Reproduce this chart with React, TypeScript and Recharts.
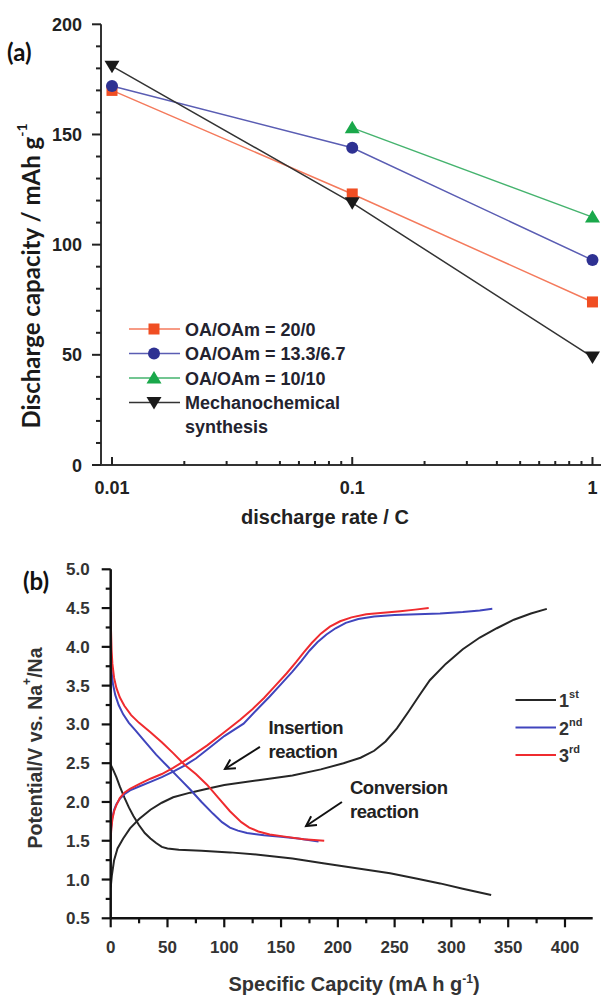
import React from 'react';
import { LineChart, Line, XAxis, YAxis, Legend, ReferenceLine, ReferenceDot } from 'recharts';

// ---------------- Panel (a) data ----------------
const rates = [0.01, 0.1, 1];
const capOA20 = [170, 123, 74];
const capOA133 = [172, 144, 93];
const capOA10 = [null, 153, 112.5];
const capMech = [181, 119, 49];

const rateTicks = [0.01, 0.02, 0.03, 0.04, 0.05, 0.06, 0.07, 0.08, 0.09, 0.1, 0.2, 0.3, 0.4, 0.5, 0.6, 0.7, 0.8, 0.9, 1];
const rateMajorTicks = [0.01, 0.1, 1];
const rateMajorLabels = ['0.01', '0.1', '1'];
const capTicksA = [0, 10, 20, 30, 40, 50, 60, 70, 80, 90, 100, 110, 120, 130, 140, 150, 160, 170, 180, 190, 200];
const capMajorA = [0, 50, 100, 150, 200];
const capMajorLabelsA = ['0', '50', '100', '150', '200'];

const seriesA = [
  { key: 'oa20', lines: ['OA/OAm = 20/0'], line: '#f47a5c', fill: '#f04e23', shape: 'square' },
  { key: 'oa133', lines: ['OA/OAm = 13.3/6.7'], line: '#5a5db3', fill: '#2e3192', shape: 'circle' },
  { key: 'oa10', lines: ['OA/OAm = 10/10'], line: '#45b36e', fill: '#1aa84b', shape: 'triangle' },
  { key: 'mech', lines: ['Mechanochemical', 'synthesis'], line: '#333333', fill: '#1a1a1a', shape: 'down' },
];

const dataA = rates.map((r, i) => ({
  rate: r,
  oa20: capOA20[i],
  oa133: capOA133[i],
  oa10: capOA10[i],
  mech: capMech[i],
}));

// ---------------- Panel (b) data ----------------
const c1DisCap = [0, 2, 5, 8, 12, 16, 20, 25, 30, 35, 40, 45, 50, 60, 80, 105, 130, 160, 187, 215, 246, 270, 290, 310, 335];
const c1DisV = [2.48, 2.42, 2.32, 2.2, 2.06, 1.93, 1.82, 1.7, 1.6, 1.53, 1.47, 1.42, 1.4, 1.385, 1.37, 1.35, 1.32, 1.27, 1.21, 1.15, 1.08, 1.01, 0.95, 0.88, 0.8];
const c1ChgCap = [0, 1, 3, 6, 11, 17, 25, 35, 45, 55, 70, 85, 100, 130, 160, 185, 205, 220, 232, 242, 252, 262, 272, 281, 295, 310, 325, 340, 355, 370, 384];
const c1ChgV = [0.9, 1.05, 1.25, 1.4, 1.53, 1.66, 1.78, 1.9, 1.99, 2.06, 2.12, 2.17, 2.22, 2.28, 2.34, 2.42, 2.5, 2.57, 2.66, 2.78, 2.95, 3.16, 3.38, 3.57, 3.78, 3.97, 4.12, 4.24, 4.35, 4.43, 4.49];

const c2DisCap = [0, 0.3, 1, 2, 4, 7, 11, 16, 22, 30, 40, 50, 60, 70, 80, 90, 98, 105, 112, 120, 135, 150, 165, 183];
const c2DisV = [3.95, 3.8, 3.65, 3.52, 3.38, 3.25, 3.13, 3.02, 2.92, 2.78, 2.61, 2.46, 2.31, 2.16, 2.0, 1.85, 1.74, 1.67, 1.63, 1.6, 1.57, 1.55, 1.53, 1.49];
const c2ChgCap = [0, 0.5, 1.5, 3, 5, 8, 12, 17, 25, 35, 45, 55, 65, 75, 87, 100, 117, 128, 140, 150, 160, 168, 175, 182, 190, 198, 207, 218, 232, 250, 270, 290, 310, 325, 336];
const c2ChgV = [1.55, 1.68, 1.8, 1.9, 1.97, 2.04, 2.1, 2.15, 2.2, 2.26, 2.32, 2.39, 2.47, 2.56, 2.7, 2.85, 3.01, 3.18, 3.36, 3.52, 3.68, 3.82, 3.95, 4.06, 4.16, 4.24, 4.31, 4.36, 4.39, 4.41, 4.42, 4.43, 4.45, 4.47, 4.49];

const c3DisCap = [0, 0.3, 0.8, 1.5, 3, 5, 8, 12, 18, 25, 35, 45, 55, 65, 75, 85, 95, 105, 115, 122, 130, 140, 155, 170, 188];
const c3DisV = [4.45, 4.2, 3.95, 3.78, 3.6, 3.47, 3.35, 3.24, 3.12, 3.02, 2.9, 2.77, 2.63, 2.48, 2.36, 2.22, 2.05, 1.88, 1.74, 1.67, 1.62, 1.58, 1.55, 1.52, 1.5];
const c3ChgCap = [0, 0.5, 1.5, 3, 5, 8, 12, 17, 25, 35, 45, 55, 65, 75, 85, 100, 114, 125, 135, 145, 155, 163, 170, 177, 185, 193, 202, 212, 225, 240, 255, 268, 280];
const c3ChgV = [1.52, 1.65, 1.78, 1.88, 1.96, 2.05, 2.12, 2.17, 2.23, 2.3, 2.36, 2.44, 2.53, 2.63, 2.73, 2.9, 3.06, 3.2, 3.34, 3.5, 3.66, 3.8, 3.93, 4.05, 4.17, 4.26, 4.33, 4.38, 4.42, 4.44, 4.46, 4.48, 4.5];

const capTicksB = [0, 25, 50, 75, 100, 125, 150, 175, 200, 225, 250, 275, 300, 325, 350, 375, 400];
const capMajorB = [0, 50, 100, 150, 200, 250, 300, 350, 400];
const capMajorLabelsB = ['0', '50', '100', '150', '200', '250', '300', '350', '400'];
const vTicksB = [0.5, 0.75, 1, 1.25, 1.5, 1.75, 2, 2.25, 2.5, 2.75, 3, 3.25, 3.5, 3.75, 4, 4.25, 4.5, 4.75, 5];
const vMajorB = [0.5, 1, 1.5, 2, 2.5, 3, 3.5, 4, 4.5, 5];
const vMajorLabelsB = ['0.5', '1.0', '1.5', '2.0', '2.5', '3.0', '3.5', '4.0', '4.5', '5.0'];

const cycleNames = ['1', '2', '3'];
const cycleSups = ['st', 'nd', 'rd'];
const cycleColors = ['#262626', '#4045bd', '#ef2b2f'];

const zip = (caps: number[], vs: number[]) => caps.map((c, i) => ({ cap: c, v: vs[i] }));
const curvesB = [
  { id: 'c1d', cycle: 0, data: zip(c1DisCap, c1DisV) },
  { id: 'c1c', cycle: 0, data: zip(c1ChgCap, c1ChgV) },
  { id: 'c2d', cycle: 1, data: zip(c2DisCap, c2DisV) },
  { id: 'c2c', cycle: 1, data: zip(c2ChgCap, c2ChgV) },
  { id: 'c3d', cycle: 2, data: zip(c3DisCap, c3DisV) },
  { id: 'c3c', cycle: 2, data: zip(c3ChgCap, c3ChgV) },
];

const annotations = [
  { id: 'ins', lines: ['Insertion', 'reaction'], textCap: 139, textV: 2.97, fromCap: 131.4, fromV: 2.71, toCap: 100.6, toV: 2.425 },
  { id: 'conv', lines: ['Conversion', 'reaction'], textCap: 210.6, textV: 2.19, fromCap: 203.6, fromV: 2.0, toCap: 172, toV: 1.69 },
];

// ---------------- styles ----------------
const SANS = "'Liberation Sans', Arial, sans-serif";
const CAL = "Lato, 'Open Sans', sans-serif";
const TOP_B = 535;

// ---------------- renderers (a) ----------------
const renderMarker = (p: any, s: any) => {
  const { cx, cy, index } = p;
  const k = `${s.key}-${index}`;
  if (cx == null || cy == null || p.value == null) return <g key={k} />;
  if (s.shape === 'square') return <rect key={k} x={cx - 5.5} y={cy - 5.5} width={11} height={11} fill={s.fill} />;
  if (s.shape === 'circle') return <circle key={k} cx={cx} cy={cy} r={6} fill={s.fill} />;
  if (s.shape === 'triangle')
    return <polygon key={k} points={`${cx},${cy - 7} ${cx + 7.5},${cy + 5.5} ${cx - 7.5},${cy + 5.5}`} fill={s.fill} />;
  return <polygon key={k} points={`${cx - 7.5},${cy - 5.5} ${cx + 7.5},${cy - 5.5} ${cx},${cy + 7}`} fill={s.fill} />;
};

const legendMarker = (s: any, cx: number, cy: number) => renderMarker({ cx, cy, index: 'lg', value: 1 }, s);

const rateTickBottom = (p: any) => {
  const { x, y, payload } = p;
  const i = rateMajorTicks.indexOf(payload.value);
  const major = i >= 0;
  return (
    <g key={`rb-${payload.value}`}>
      <path d={`M${x},${y} L${x},${y - (major ? 8 : 4)}`} stroke="#222" strokeWidth={2} fill="none" />
      {major && (
        <text x={x} y={y + 28.5} textAnchor="middle" fontFamily={SANS} fontWeight="bold" fontSize={18} fill="#222">
          {rateMajorLabels[i]}
        </text>
      )}
    </g>
  );
};

const rateTickTop = (p: any) => {
  const { x, y, payload } = p;
  const major = rateMajorTicks.indexOf(payload.value) >= 0;
  return (
    <g key={`rt-${payload.value}`}>
      <path d={`M${x},${y} L${x},${y + (major ? 8 : 4)}`} stroke="#222" strokeWidth={2} fill="none" />
    </g>
  );
};

const capTickA = (p: any) => {
  const { x, y, payload } = p;
  const i = capMajorA.indexOf(payload.value);
  const major = i >= 0;
  return (
    <g key={`ca-${payload.value}`}>
      <path d={`M${x},${y} L${x - (major ? 9 : 5)},${y}`} stroke="#222" strokeWidth={2} fill="none" />
      {major && (
        <text x={x - 19} y={y + 6.5} textAnchor="end" fontFamily={SANS} fontWeight="bold" fontSize={18} fill="#222">
          {capMajorLabelsA[i]}
        </text>
      )}
    </g>
  );
};

const rateTitle = () => (
  <text x={325} y={524} textAnchor="middle" fontFamily={SANS} fontWeight="bold" fontSize={20} fill="#222">
    discharge rate / C
  </text>
);

const capTitleA = () => (
  <g>
    <text x={7} y={61} fontFamily={CAL} fontWeight="bold" fontSize={24} fill="#111">
      (a)
    </text>
    <text
      x={30}
      y={276}
      transform="rotate(-90, 30, 276)"
      textAnchor="middle"
      dominantBaseline="central"
      fontFamily={CAL}
      fontWeight="bold"
      fontSize={24}
      fill="#1a1a1a"
    >
      Discharge capacity / mAh g
      <tspan dy={-9} fontSize={14}>-1</tspan>
    </text>
  </g>
);

const legendA = () => (
  <svg width={260} height={125} style={{ display: 'block' }}>
    {seriesA.map((s, i) => {
      const cy = 12 + 24.5 * i;
      return (
        <g key={s.key}>
          <line x1={2} x2={53} y1={cy} y2={cy} stroke={s.line} strokeWidth={1.5} />
          {legendMarker(s, 27, cy)}
          {s.lines.map((t, j) => (
            <text key={t} x={58} y={cy + 6.5 + 24 * j} fontFamily={SANS} fontWeight="bold" fontSize={18} fill="#23232f">
              {t}
            </text>
          ))}
        </g>
      );
    })}
  </svg>
);

// ---------------- renderers (b) ----------------
const capTickB = (p: any) => {
  const { x, y, payload } = p;
  const i = capMajorB.indexOf(payload.value);
  const major = i >= 0;
  return (
    <g key={`cb-${payload.value}`}>
      <path d={`M${x},${y} L${x},${y + (major ? 9 : 5)}`} stroke="#111" strokeWidth={2.2} fill="none" />
      {major && (
        <text x={x} y={y + 35} textAnchor="middle" fontFamily={SANS} fontWeight="bold" fontSize={17} fill="#333">
          {capMajorLabelsB[i]}
        </text>
      )}
    </g>
  );
};

const vTickB = (p: any) => {
  const { x, y, payload } = p;
  const i = vMajorB.indexOf(payload.value);
  const major = i >= 0;
  return (
    <g key={`vb-${payload.value}`}>
      <path d={`M${x},${y} L${x - (major ? 9 : 5)},${y}`} stroke="#111" strokeWidth={2.2} fill="none" />
      {major && (
        <text x={x - 21} y={y + 6} textAnchor="end" fontFamily={SANS} fontWeight="bold" fontSize={17} fill="#333">
          {vMajorLabelsB[i]}
        </text>
      )}
    </g>
  );
};

const capTitleB = () => (
  <text x={354} y={991 - TOP_B} textAnchor="middle" fontFamily={SANS} fontWeight="bold" fontSize={20} fill="#333">
    Specific Capcity (mA h g
    <tspan dy={-8} fontSize={12}>-1</tspan>
    <tspan dy={8}>)</tspan>
  </text>
);

const vTitleB = () => (
  <g>
    <text x={23} y={590 - TOP_B} fontFamily={CAL} fontWeight="bold" fontSize={24} fill="#111">
      (b)
    </text>
    <text
      x={35}
      y={748 - TOP_B}
      transform={`rotate(-90, 35, ${748 - TOP_B})`}
      textAnchor="middle"
      dominantBaseline="central"
      fontFamily={SANS}
      fontWeight="bold"
      fontSize={19.5}
      fill="#333"
    >
      Potential/V vs. Na
      <tspan dy={-8} fontSize={12}>+</tspan>
      <tspan dy={8}>/Na</tspan>
    </text>
  </g>
);

const legendB = () => (
  <svg width={90} height={85} style={{ display: 'block' }}>
    {cycleNames.map((n, i) => {
      const cy = 12 + 27.5 * i;
      return (
        <g key={n}>
          <line x1={2.5} x2={43} y1={cy} y2={cy} stroke={cycleColors[i]} strokeWidth={2} />
          <text x={46} y={cy + 7} fontFamily={SANS} fontWeight="bold" fontSize={18} fill="#333">
            {n}
            <tspan dy={-9} fontSize={11}>{cycleSups[i]}</tspan>
          </text>
        </g>
      );
    })}
  </svg>
);

const arrowShape = (p: any) => {
  const { x1, y1, x2, y2 } = p;
  const ang = Math.atan2(y2 - y1, x2 - x1);
  const L = 11;
  const spread = 0.5;
  const ax = x2 - L * Math.cos(ang - spread);
  const ay = y2 - L * Math.sin(ang - spread);
  const bx = x2 - L * Math.cos(ang + spread);
  const by = y2 - L * Math.sin(ang + spread);
  return (
    <g>
      <line x1={x1} y1={y1} x2={x2} y2={y2} stroke="#111" strokeWidth={2} />
      <polyline points={`${ax},${ay} ${x2},${y2} ${bx},${by}`} fill="none" stroke="#111" strokeWidth={2} />
    </g>
  );
};

const annText = (lines: string[]) => (p: any) => (
  <text x={p.cx} y={p.cy + 7} fontFamily={SANS} fontWeight="bold" fontSize={18.5} letterSpacing={-0.4} fill="#222">
    {lines.map((t, j) => (
      <tspan key={t} x={p.cx} dy={j === 0 ? 0 : 24}>
        {t}
      </tspan>
    ))}
  </text>
);

export default function App() {
  return (
    <div style={{ position: 'absolute', left: 0, top: 0, width: 601, height: 996, overflow: 'hidden', background: '#fff' }}>
      <div style={{ position: 'absolute', left: 0, top: 0 }}>
        <LineChart width={625} height={535} data={dataA} margin={{ top: 24.3, right: 20.7, left: 0, bottom: 0 }}>
          <XAxis
            dataKey="rate"
            type="number"
            scale="log"
            domain={[0.009, 1.12]}
            allowDataOverflow
            ticks={rateTicks}
            interval={0}
            tickSize={0}
            tickMargin={0}
            tickLine={false}
            tick={rateTickBottom}
            axisLine={{ stroke: '#333', strokeWidth: 2 }}
            height={70}
            label={rateTitle}
          />
          <XAxis
            xAxisId="top"
            orientation="top"
            dataKey="rate"
            type="number"
            scale="log"
            domain={[0.009, 1.12]}
            allowDataOverflow
            ticks={rateTicks}
            interval={0}
            tickSize={0}
            tickMargin={0}
            tickLine={false}
            tick={rateTickTop}
            axisLine={{ stroke: '#333', strokeWidth: 2 }}
            height={0}
          />
          <YAxis
            type="number"
            domain={[0, 200]}
            allowDataOverflow
            ticks={capTicksA}
            interval={0}
            tickSize={0}
            tickMargin={0}
            tickLine={false}
            tick={capTickA}
            axisLine={{ stroke: '#333', strokeWidth: 2 }}
            width={101}
            label={capTitleA}
          />
          <Legend
            layout="vertical"
            align="center"
            verticalAlign="middle"
            content={legendA}
            wrapperStyle={{ position: 'absolute', left: 127, top: 317, width: 260, height: 125 }}
          />
          {seriesA.map((s) => (
            <Line
              key={s.key}
              dataKey={s.key}
              type="linear"
              stroke={s.line}
              strokeWidth={1.5}
              dot={(p: any) => renderMarker(p, s)}
              activeDot={false}
              isAnimationActive={false}
            />
          ))}
        </LineChart>
      </div>
      <div style={{ position: 'absolute', left: 0, top: TOP_B }}>
        <LineChart width={601} height={461} margin={{ top: 34.3, right: 8.3, left: 0, bottom: 0 }}>
          <XAxis
            dataKey="cap"
            type="number"
            domain={[0, 424.4]}
            allowDataOverflow
            ticks={capTicksB}
            interval={0}
            tickSize={0}
            tickMargin={0}
            tickLine={false}
            tick={capTickB}
            axisLine={{ stroke: '#111', strokeWidth: 2.5 }}
            height={77.7}
            label={capTitleB}
          />
          <XAxis
            xAxisId="top"
            orientation="top"
            dataKey="cap"
            type="number"
            domain={[0, 424.4]}
            allowDataOverflow
            tick={false}
            tickLine={false}
            axisLine={{ stroke: '#111', strokeWidth: 2.5 }}
            height={0}
          />
          <YAxis
            dataKey="v"
            type="number"
            domain={[0.5, 5]}
            allowDataOverflow
            ticks={vTicksB}
            interval={0}
            tickSize={0}
            tickMargin={0}
            tickLine={false}
            tick={vTickB}
            axisLine={{ stroke: '#111', strokeWidth: 2.5 }}
            width={110.7}
            label={vTitleB}
          />
          <YAxis
            yAxisId="right"
            orientation="right"
            dataKey="v"
            type="number"
            domain={[0.5, 5]}
            allowDataOverflow
            tick={false}
            tickLine={false}
            axisLine={{ stroke: '#111', strokeWidth: 2.5 }}
            width={0}
          />
          <Legend
            layout="vertical"
            align="center"
            verticalAlign="middle"
            content={legendB}
            wrapperStyle={{ position: 'absolute', left: 513, top: 700 - 12 - TOP_B, width: 90, height: 85 }}
          />
          {curvesB.map((c) => (
            <Line
              key={c.id}
              data={c.data}
              dataKey="v"
              type="linear"
              stroke={cycleColors[c.cycle]}
              strokeWidth={2}
              dot={false}
              activeDot={false}
              isAnimationActive={false}
            />
          ))}
          {annotations.map((a) => (
            <ReferenceLine
              key={`arr-${a.id}`}
              segment={[
                { x: a.fromCap, y: a.fromV },
                { x: a.toCap, y: a.toV },
              ]}
              shape={arrowShape}
            />
          ))}
          {annotations.map((a) => (
            <ReferenceDot key={`txt-${a.id}`} x={a.textCap} y={a.textV} r={1} shape={annText(a.lines)} />
          ))}
        </LineChart>
      </div>
    </div>
  );
}
